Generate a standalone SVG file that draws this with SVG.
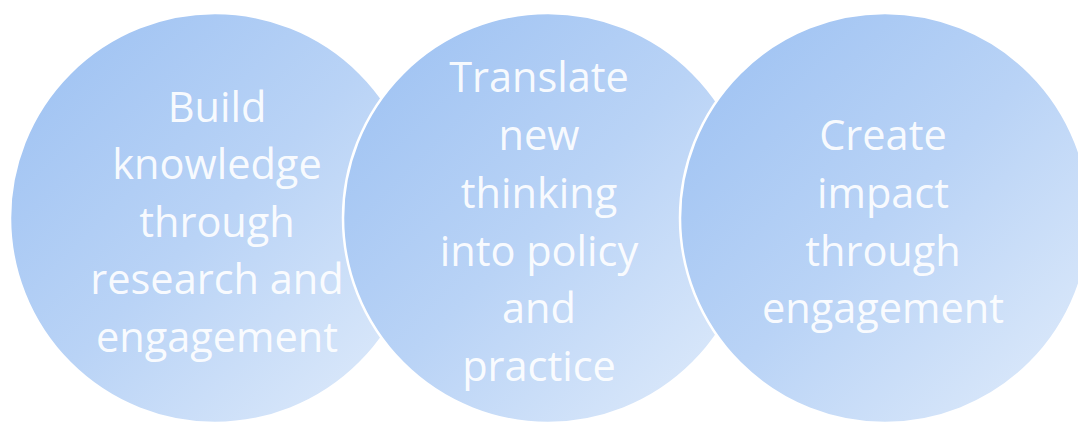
<svg xmlns="http://www.w3.org/2000/svg" width="1078" height="424" viewBox="0 0 1078 424">
  <defs>
    <linearGradient id="g" x1="0" y1="0" x2="1" y2="1">
      <stop offset="0" stop-color="#9BC0F2"/>
      <stop offset="0.5" stop-color="#B9D3F6"/>
      <stop offset="1" stop-color="#E2EDFB"/>
    </linearGradient>
  </defs>
  <style>
    .c { fill: url(#g); stroke: #ffffff; stroke-width: 2.5; }
    .t { font-family: "Open Sans", "Noto Sans", "Liberation Sans", sans-serif; font-size: 41.5px; fill: #ffffff; fill-opacity: 0.93; text-anchor: middle; }
  </style>
  <rect width="1078" height="424" fill="#ffffff"/>
  <g id="connectors"></g>
  <g id="node1">
    <circle class="c" cx="215" cy="218" r="205"/>
    <text class="t" x="217" y="122">Build</text>
    <text class="t" x="217" y="179">knowledge</text>
    <text class="t" x="217" y="237">through</text>
    <text class="t" x="217" y="294">research and</text>
    <text class="t" x="217" y="352">engagement</text>
  </g>
  <g id="node2">
    <circle class="c" cx="548" cy="218" r="205"/>
    <text class="t" x="539" y="92">Translate</text>
    <text class="t" x="539" y="150">new</text>
    <text class="t" x="539" y="208">thinking</text>
    <text class="t" x="539" y="266">into policy</text>
    <text class="t" x="539" y="323">and</text>
    <text class="t" x="539" y="381">practice</text>
  </g>
  <g id="node3">
    <circle class="c" cx="885" cy="218" r="205"/>
    <text class="t" x="883" y="150">Create</text>
    <text class="t" x="883" y="208">impact</text>
    <text class="t" x="883" y="266">through</text>
    <text class="t" x="883" y="323">engagement</text>
  </g>
</svg>
